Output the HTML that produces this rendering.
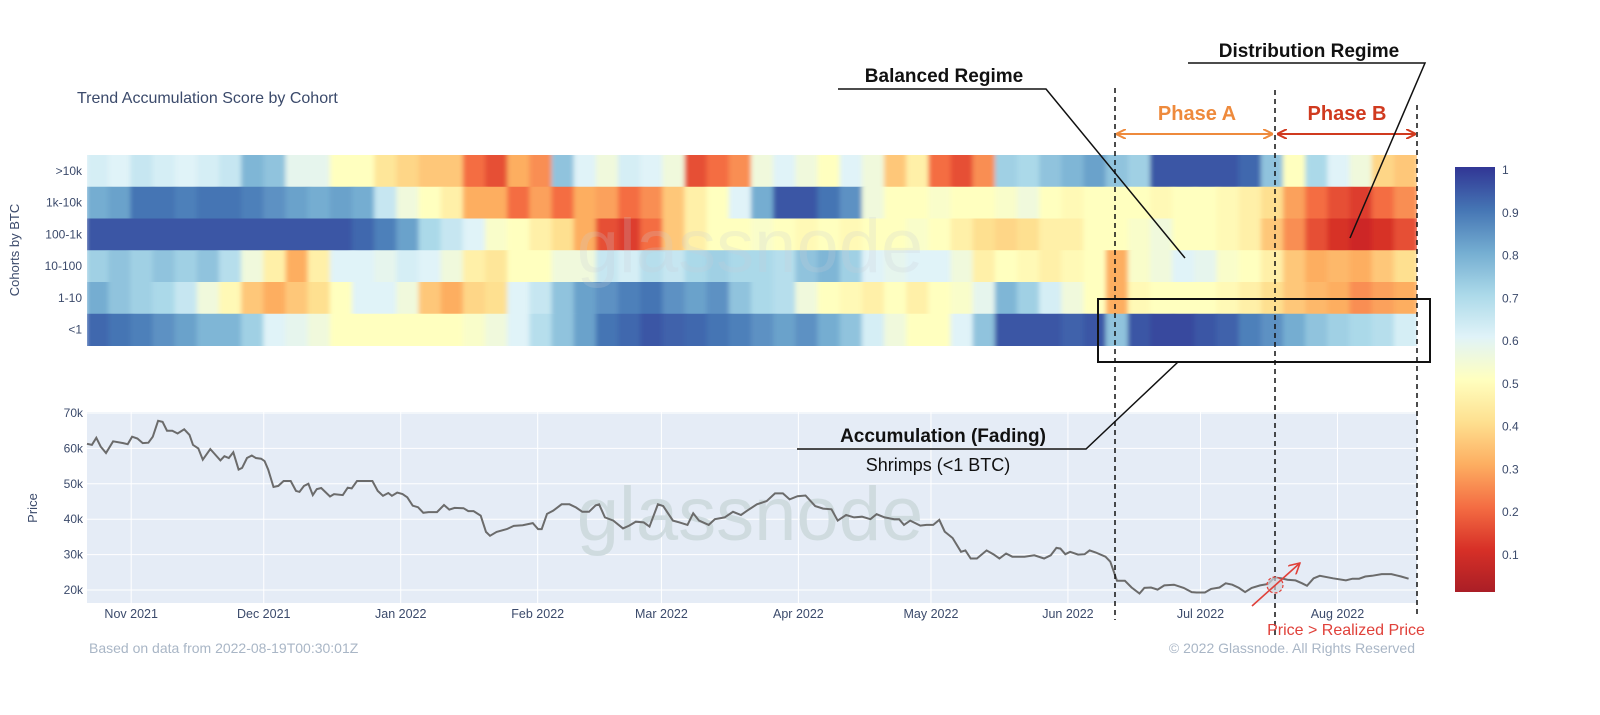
<!DOCTYPE html>
<html><head><meta charset="utf-8"><style>
html,body{margin:0;padding:0;background:#fff;}
svg{display:block;font-family:"Liberation Sans",Arial,sans-serif;}
</style></head><body>
<svg id="chart" width="1600" height="715" viewBox="0 0 1600 715">
<defs>
<filter id="hblur" x="0" y="0" width="1" height="1"><feGaussianBlur stdDeviation="2.5 0"/></filter>
<clipPath id="hmclip"><rect x="87" y="155" width="1330" height="191"/></clipPath>
<linearGradient id="cbgrad" x1="0" y1="1" x2="0" y2="0">
<stop offset="0" stop-color="rgb(170,30,38)"/><stop offset="0.1" stop-color="rgb(215,48,39)"/>
<stop offset="0.2" stop-color="rgb(244,109,67)"/><stop offset="0.3" stop-color="rgb(253,174,97)"/>
<stop offset="0.4" stop-color="rgb(254,224,144)"/><stop offset="0.5" stop-color="rgb(255,255,191)"/>
<stop offset="0.6" stop-color="rgb(224,243,248)"/><stop offset="0.7" stop-color="rgb(171,217,233)"/>
<stop offset="0.8" stop-color="rgb(116,173,209)"/><stop offset="0.9" stop-color="rgb(69,117,180)"/>
<stop offset="1" stop-color="rgb(49,54,149)"/>
</linearGradient>
<marker id="arrO" markerWidth="10" markerHeight="10" refX="9" refY="5" orient="auto-start-reverse" markerUnits="userSpaceOnUse"><path d="M0,0 L10,5 L0,10" fill="none" stroke="#ee8a3c" stroke-width="2"/></marker>
<marker id="arrR" markerWidth="10" markerHeight="10" refX="9" refY="5" orient="auto-start-reverse" markerUnits="userSpaceOnUse"><path d="M0,0 L10,5 L0,10" fill="none" stroke="#d03a1f" stroke-width="2"/></marker>
<marker id="arrP" markerWidth="12" markerHeight="12" refX="11" refY="6" orient="auto" markerUnits="userSpaceOnUse"><path d="M0,0 L11,6 L0,12" fill="none" stroke="#e0413a" stroke-width="1.6"/></marker>
</defs>

<text x="77" y="103" font-size="16" fill="#3b4a6b">Trend Accumulation Score by Cohort</text>
<text transform="translate(19,250) rotate(-90)" text-anchor="middle" font-size="13" fill="#3b4a6b">Cohorts by BTC</text>
<text transform="translate(37,508) rotate(-90)" text-anchor="middle" font-size="13" fill="#3b4a6b">Price</text>

<g id="heat" clip-path="url(#hmclip)"><g id="heatcells" filter="url(#hblur)"></g></g>
<g id="heatlabels"></g>
<text x="750" y="272" text-anchor="middle" font-size="76" fill="#c8cfd6" fill-opacity="0.22">glassnode</text>

<rect x="87" y="412" width="1330" height="191" fill="#e5ecf6"/>
<g id="pricegrid"></g>
<text x="750" y="540" text-anchor="middle" font-size="76" fill="#cfdbdf">glassnode</text>
<path id="priceline" fill="none" stroke="#6b6b6b" stroke-width="2"/>
<g id="xticks"></g>

<rect x="1455" y="167" width="40" height="425" fill="url(#cbgrad)"/>
<g id="cbticks"></g>

<text x="89" y="653" font-size="14" fill="#a9b6c6">Based on data from 2022-08-19T00:30:01Z</text>
<text x="1415" y="653" text-anchor="end" font-size="14" fill="#a9b6c6">© 2022 Glassnode. All Rights Reserved</text>

<g stroke="#111" stroke-width="1.5" stroke-dasharray="5,4">
<line x1="1115" y1="88" x2="1115" y2="620"/><line x1="1275" y1="90" x2="1275" y2="636"/><line x1="1417" y1="105" x2="1417" y2="618"/>
</g>
<text x="1197" y="120" text-anchor="middle" font-size="20" font-weight="bold" fill="#ee8a3c">Phase A</text>
<line x1="1117" y1="134" x2="1272" y2="134" stroke="#ee8a3c" stroke-width="2" marker-start="url(#arrO)" marker-end="url(#arrO)"/>
<text x="1347" y="120" text-anchor="middle" font-size="20" font-weight="bold" fill="#d03a1f">Phase B</text>
<line x1="1278" y1="134" x2="1415" y2="134" stroke="#d03a1f" stroke-width="2" marker-start="url(#arrR)" marker-end="url(#arrR)"/>

<text x="944" y="82" text-anchor="middle" font-size="19" font-weight="bold" fill="#111">Balanced Regime</text>
<polyline points="838,89 1046,89 1185,258" fill="none" stroke="#111" stroke-width="1.5"/>
<text x="1309" y="57" text-anchor="middle" font-size="19" font-weight="bold" fill="#111">Distribution Regime</text>
<polyline points="1188,63 1425,63 1350,238" fill="none" stroke="#111" stroke-width="1.5"/>

<rect x="1098" y="299" width="332" height="63" fill="none" stroke="#111" stroke-width="2"/>
<polyline points="1178,362 1086,449 797,449" fill="none" stroke="#111" stroke-width="1.5"/>
<text x="943" y="442" text-anchor="middle" font-size="19" font-weight="bold" fill="#111">Accumulation (Fading)</text>
<text x="938" y="471" text-anchor="middle" font-size="18" fill="#111">Shrimps (&lt;1 BTC)</text>

<circle cx="1275" cy="585" r="8" fill="#cfd3da" fill-opacity="0.7" stroke="#e0413a" stroke-width="1.2" stroke-dasharray="3,2"/>
<line x1="1252" y1="606" x2="1300" y2="563" stroke="#e0413a" stroke-width="1.6" marker-end="url(#arrP)"/>
<text x="1346" y="635" text-anchor="middle" font-size="16" fill="#e0413a">Price &gt; Realized Price</text>
</svg>
<script>
const cohorts = [">10k","1k-10k","100-1k","10-100","1-10","<1"];
const scoreGt10k = [.62,.6,.65,.62,.6,.62,.65,.78,.75,.58,.58,.5,.5,.42,.38,.35,.35,.2,.15,.3,.25,.75,.6,.55,.62,.6,.55,.15,.2,.25,.55,.6,.55,.5,.6,.55,.35,.45,.2,.15,.25,.72,.7,.75,.78,.82,.75,.72,.95,.95,.95,.95,.92,.75,.5,.7,.6,.55,.38,.35];
const score1kTo10k = [.8,.82,.9,.9,.88,.9,.9,.88,.85,.82,.8,.82,.8,.65,.55,.5,.45,.3,.3,.2,.28,.2,.3,.28,.2,.25,.35,.45,.5,.6,.8,.95,.95,.9,.85,.55,.5,.5,.52,.5,.5,.52,.55,.5,.48,.5,.5,.5,.48,.5,.5,.48,.45,.4,.28,.2,.15,.12,.2,.25];
const score100To1k = [.95,.95,.95,.95,.95,.95,.95,.95,.95,.95,.95,.95,.92,.88,.82,.7,.65,.6,.52,.5,.45,.4,.3,.15,.12,.2,.35,.45,.5,.5,.52,.5,.48,.5,.48,.5,.5,.52,.5,.45,.4,.38,.4,.45,.45,.5,.5,.52,.55,.5,.5,.48,.45,.35,.25,.15,.1,.08,.1,.15];
const score10To100 = [.72,.75,.72,.75,.72,.75,.68,.55,.45,.3,.45,.6,.6,.58,.62,.6,.55,.45,.42,.5,.5,.55,.55,.65,.62,.68,.65,.7,.72,.7,.7,.68,.75,.78,.72,.6,.58,.6,.6,.55,.45,.5,.48,.45,.48,.5,.3,.52,.55,.6,.58,.52,.5,.45,.35,.3,.32,.3,.35,.4];
const score1To10 = [.8,.75,.72,.7,.65,.55,.48,.35,.3,.35,.4,.5,.6,.6,.55,.35,.3,.38,.4,.6,.65,.75,.82,.85,.88,.9,.85,.82,.85,.75,.7,.68,.55,.5,.48,.45,.5,.45,.5,.52,.58,.78,.72,.62,.55,.5,.3,.48,.5,.5,.5,.48,.45,.4,.35,.32,.3,.25,.28,.3];
const scoreLt1 = [.92,.9,.88,.85,.82,.78,.78,.72,.6,.58,.55,.5,.5,.5,.5,.5,.5,.52,.55,.6,.68,.75,.82,.9,.92,.95,.93,.92,.9,.88,.85,.82,.85,.8,.75,.62,.55,.5,.5,.6,.75,.95,.95,.95,.93,.95,.75,.95,.97,.97,.95,.93,.88,.85,.8,.75,.72,.7,.68,.62];
const priceDays = [0,1.1,2.1,3.1,4.3,5.9,8.2,9.2,10.2,11.4,12.6,13.9,14.9,16.1,17.1,18.1,19.3,20.5,22,23.2,24,25.2,26.2,27.9,28.7,30.2,31.1,32.1,33.1,34.3,35.1,36.2,37.3,38.2,39.4,40.2,41,42.2,43.3,44.5,46.1,47.3,48.1,49.1,50.1,51.1,52,53,55,55.9,57.9,59,59.9,61.1,64.6,65.8,67,68.2,69,70.2,71.4,72.5,73.7,74.9,76.1,77.3,79.2,80.8,82,83.2,85.2,86.3,87.5,89.1,90.3,91.2,92.7,95,96.6,98.6,100.9,102.1,102.9,104.1,105.5,107.4,109.2,110.7,112.1,113.6,115.1,115.9,117.2,119.1,121.3,122.7,124.2,126,127.3,129.2,130.4,132.6,134.1,135.9,137.2,138.5,140.7,142.1,144.3,146.2,148,149.4,151.6,153.8,155.7,157.5,159,160.8,162.6,164.8,166.6,168.5,169.9,171.8,173.6,175.4,177.3,178.7,180.5,182.7,183.8,184.9,186.3,188.6,190,191.5,192.9,194.1,195.9,197.8,198.8,200,201.4,203.6,205.1,206.5,208,209.4,212.2,214.4,216.6,218.1,219.4,220.3,221.4,222.5,224.3,225.8,226.9,228.3,230.5,231.6,233.1,234.9,236.4,238.2,239.3,240.8,242.3,243.8,246,248.2,250,251.1,253,254.4,256.3,257.7,259.2,260.7,262.1,263.6,265.5,267.3,268.7,270.2,271.7,273.5,275,276.1,277.6,279,282,284.9,286.4,287.9,289.3,290.8,293,295.2,297.4,299.1];
const priceVals = [61.3,61,63,60.5,58.7,62,61.5,61.2,63.3,62.8,61.5,61.6,63.3,67.8,67.5,65,65,64.2,65.4,63.8,61,60,56.8,59.8,58.7,56.6,57.8,57.3,58.9,54,54.5,57.3,58,57.3,57.1,56.4,54,49.1,49.4,50.8,50.8,48,47.7,49.4,50,46.8,48.5,48.8,46.4,47.1,46.8,48.9,48.7,50.8,50.8,48,46.6,47.4,46.6,47.5,47.1,46.2,43.8,43.4,41.8,42,42,44,42.7,43.2,43.1,42.3,42.3,41,36.4,35.3,36.4,37.2,38.1,38.3,38.9,37.2,37.2,41.5,42.4,44.2,44.2,43.3,42.1,42.1,43.9,44.2,40.5,39.6,37.4,38.2,39.3,39.1,37.9,44.2,43.7,39.6,39.1,38.4,41.7,39.6,38.4,40,40.5,42.1,41.2,42.4,44.2,45.1,47.3,47.3,45.6,46.5,46.7,43.7,43,42.8,39.6,41.2,40.5,40.7,40,41.4,40.5,40,40,38.4,39.6,38.2,38.4,38.4,39.8,36.5,34.7,30.8,31.2,28.9,28.9,31.2,30.1,28.9,30.3,29.4,29.4,29.8,28.9,29.8,31.9,31.7,30.1,30.8,30,30.1,31.2,30.6,29.4,28,22.6,22.6,20.7,19,20.6,20.7,20.1,21.3,21.5,20.6,19.4,19.3,19.3,20.3,20.7,21.9,21.5,20.6,19.4,20.6,21.3,21.7,23.5,23.3,22.9,22.7,21.9,21.2,23.3,24,23.3,22.7,23.2,23.2,23.8,24,24.5,24.5,23.8,23.2];
const priceTicks = [70,60,50,40,30,20];
const priceTickLabels = ["70k","60k","50k","40k","30k","20k"];
const monthDays = [10,40,71,102,130,161,191,222,252,283];
const monthLabels = ["Nov 2021","Dec 2021","Jan 2022","Feb 2022","Mar 2022","Apr 2022","May 2022","Jun 2022","Jul 2022","Aug 2022"];
const cbTicks = [1,0.9,0.8,0.7,0.6,0.5,0.4,0.3,0.2,0.1];
const cbTickLabels = ["1","0.9","0.8","0.7","0.6","0.5","0.4","0.3","0.2","0.1"];

const rowsData = [scoreGt10k, score1kTo10k, score100To1k, score10To100, score1To10, scoreLt1];
const NS = "http://www.w3.org/2000/svg";
const TOTAL_DAYS = 301, X0 = 87, X1 = 1417;
function xDay(d){ return X0 + d*(X1-X0)/TOTAL_DAYS; }
function yPrice(p){ return 413 + (70-p)/50*177; }
const HM_TOP = 155, ROW_H = 190.5/6;
function yRow(i){ return HM_TOP + i*ROW_H; }
function yCb(v){ return 170 + (1-v)*427.8; }
const stops = [[165,0,38],[215,48,39],[244,109,67],[253,174,97],[254,224,144],[255,255,191],[224,243,248],[171,217,233],[116,173,209],[69,117,180],[49,54,149]];
function color(v){
  let t = Math.max(0, Math.min(1, v))*10; let i = Math.min(9, Math.floor(t)); let f = t-i;
  const a = stops[i], b = stops[i+1];
  return "rgb("+a.map((c,k)=>Math.round(c+(b[k]-c)*f)).join(",")+")";
}
function mk(tag, attrs, parent){ const e=document.createElementNS(NS,tag); for(const k in attrs) e.setAttribute(k,attrs[k]); parent.appendChild(e); return e; }

const cells = document.getElementById("heatcells");
rowsData.forEach((row, r) => {
  const n = row.length;
  row.forEach((v, c) => {
    const xa = xDay(c*TOTAL_DAYS/n), xb = xDay((c+1)*TOTAL_DAYS/n);
    const rc = mk("rect", {x: xa-1, y: yRow(r), width: xb-xa+2, height: ROW_H+0.5, fill: color(v)}, cells);
    
    
  });
});
const hl = document.getElementById("heatlabels");
cohorts.forEach((c, r) => {
  const t = mk("text", {x: 82, y: yRow(r)+ROW_H/2+4, "text-anchor": "end", "font-size": 12, fill: "#3b4a6b"}, hl);
  t.textContent = c;
  
  
});

const grid = document.getElementById("pricegrid");
priceTicks.forEach((p, i) => {
  const ln = mk("line", {x1: X0, x2: X1, y1: yPrice(p), y2: yPrice(p), stroke: "#fff", "stroke-width": 1}, grid);
  
  
  const t = mk("text", {x: 83, y: yPrice(p)+4, "text-anchor": "end", "font-size": 12, fill: "#3b4a6b"}, grid);
  t.textContent = priceTickLabels[i];
  
  
});
const xt = document.getElementById("xticks");
monthDays.forEach((d, i) => {
  const ln = mk("line", {x1: xDay(d), x2: xDay(d), y1: 412, y2: 603, stroke: "#fff", "stroke-width": 1}, grid);
  
  
  const t = mk("text", {x: xDay(d), y: 618, "text-anchor": "middle", "font-size": 12.5, fill: "#3b4a6b"}, xt);
  t.textContent = monthLabels[i];
  
  
});
document.getElementById("priceline").setAttribute("d", priceDays.map((d,i)=>(i?"L":"M")+xDay(d).toFixed(1)+","+yPrice(priceVals[i]).toFixed(1)).join(""));

const cb = document.getElementById("cbticks");
cbTicks.forEach((v, i) => {
  const t = mk("text", {x: 1502, y: yCb(v)+4, "font-size": 12, fill: "#3b4a6b"}, cb);
  t.textContent = cbTickLabels[i];
  
  
});
</script>
</body></html>
